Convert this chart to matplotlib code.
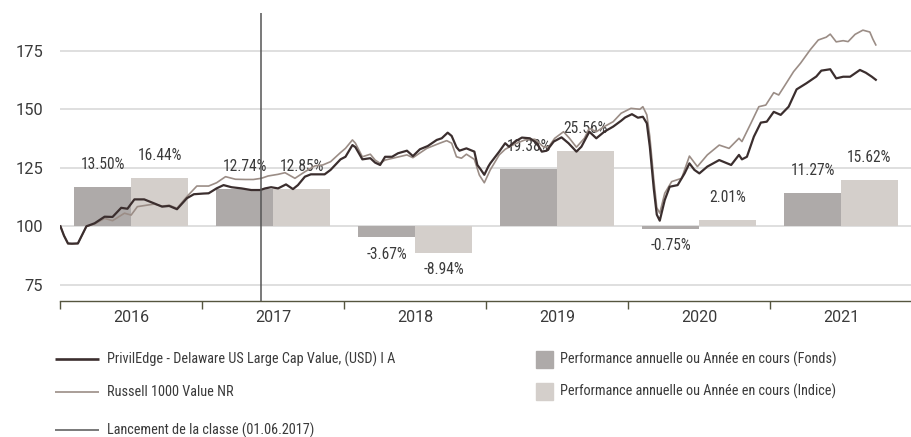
import matplotlib
matplotlib.use("Agg")
import matplotlib.pyplot as plt
from matplotlib.lines import Line2D
from matplotlib.patches import Rectangle
from matplotlib.transforms import blended_transform_factory

# ---------------- data ----------------
years = [2016, 2017, 2018, 2019, 2020, 2021]
year_labels = ["2016", "2017", "2018", "2019", "2020", "2021"]
perf_fund = [13.50, 12.74, -3.67, 19.38, -0.75, 11.27]
perf_index = [16.44, 12.85, -8.94, 25.56, 2.01, 15.62]
launch_date = 2017 + 5 / 12  # 01.06.2017
yticks = [75, 100, 125, 150, 175]

fund_t = [2016.001, 2016.026, 2016.054, 2016.082, 2016.124, 2016.184, 2016.242, 2016.312,
          2016.368, 2016.429, 2016.473, 2016.522, 2016.591, 2016.661, 2016.717, 2016.767,
          2016.822, 2016.892, 2016.941, 2017.010, 2017.045, 2017.101, 2017.150, 2017.206,
          2017.276, 2017.345, 2017.408, 2017.443, 2017.485, 2017.534, 2017.590, 2017.639,
          2017.674, 2017.723, 2017.765, 2017.862, 2017.904, 2017.974, 2018.009, 2018.058,
          2018.079, 2018.128, 2018.184, 2018.218, 2018.253, 2018.288, 2018.337, 2018.379,
          2018.442, 2018.484, 2018.533, 2018.589, 2018.652, 2018.687, 2018.729, 2018.757,
          2018.791, 2018.812, 2018.861, 2018.917, 2018.938, 2018.959, 2018.987, 2019.015,
          2019.029, 2019.092, 2019.134, 2019.161, 2019.203, 2019.252, 2019.308, 2019.357,
          2019.392, 2019.427, 2019.476, 2019.531, 2019.580, 2019.636, 2019.671, 2019.727,
          2019.776, 2019.832, 2019.895, 2019.951, 2019.979, 2020.027, 2020.069, 2020.104,
          2020.132, 2020.153, 2020.181, 2020.202, 2020.223, 2020.258, 2020.293, 2020.349,
          2020.398, 2020.432, 2020.467, 2020.502, 2020.558, 2020.642, 2020.726, 2020.781,
          2020.802, 2020.837, 2020.886, 2020.935, 2020.977, 2021.026, 2021.075, 2021.131,
          2021.187, 2021.256, 2021.326, 2021.361, 2021.424, 2021.466, 2021.515, 2021.564,
          2021.633, 2021.675, 2021.717, 2021.745]
fund_v = [100.0, 96.0, 92.7, 92.6, 92.7, 100.0, 101.3, 104.1,
          104.0, 107.9, 107.5, 111.5, 111.5, 109.8, 108.4, 108.7,
          107.3, 112.0, 113.7, 114.0, 114.1, 116.2, 117.6, 116.7,
          116.2, 115.5, 115.5, 116.2, 116.7, 116.2, 117.9, 115.9,
          117.6, 121.2, 122.2, 122.2, 124.1, 128.6, 129.7, 134.7,
          133.8, 128.6, 129.1, 127.2, 126.2, 129.7, 129.7, 131.2,
          132.3, 130.0, 132.9, 134.3, 136.9, 137.6, 140.0, 138.6,
          133.8, 132.3, 133.3, 131.9, 126.2, 124.5, 122.0, 125.5,
          126.9, 131.9, 135.5, 134.0, 136.2, 137.9, 137.6, 135.5,
          131.9, 132.3, 136.2, 138.0, 135.5, 131.9, 134.0, 140.4,
          137.6, 140.4, 142.6, 145.1, 146.5, 147.9, 146.4, 146.8,
          144.0, 134.0, 116.0, 105.0, 102.4, 111.2, 116.9, 117.6,
          122.6, 126.9, 124.1, 122.6, 125.5, 128.3, 126.2, 130.5,
          128.6, 129.7, 138.3, 144.3, 144.7, 148.9, 147.6, 151.1,
          158.5, 161.1, 164.0, 166.5, 167.1, 163.2, 163.9, 163.9,
          166.8, 165.6, 163.9, 162.6]

index_t = [2016.001, 2016.026, 2016.054, 2016.082, 2016.124, 2016.184, 2016.242, 2016.312,
           2016.368, 2016.452, 2016.499, 2016.543, 2016.661, 2016.717, 2016.767, 2016.822,
           2016.892, 2016.962, 2017.010, 2017.045, 2017.101, 2017.164, 2017.234, 2017.304,
           2017.360, 2017.416, 2017.464, 2017.534, 2017.583, 2017.653, 2017.723, 2017.793,
           2017.849, 2017.904, 2017.974, 2018.009, 2018.058, 2018.079, 2018.128, 2018.184,
           2018.218, 2018.253, 2018.288, 2018.344, 2018.442, 2018.484, 2018.582, 2018.673,
           2018.722, 2018.757, 2018.791, 2018.826, 2018.861, 2018.917, 2018.952, 2018.987,
           2019.029, 2019.092, 2019.134, 2019.203, 2019.273, 2019.343, 2019.406, 2019.441,
           2019.483, 2019.545, 2019.587, 2019.636, 2019.692, 2019.727, 2019.776, 2019.832,
           2019.895, 2019.951, 2020.020, 2020.083, 2020.104, 2020.132, 2020.153, 2020.181,
           2020.202, 2020.223, 2020.258, 2020.307, 2020.377, 2020.432, 2020.488, 2020.558,
           2020.642, 2020.711, 2020.781, 2020.802, 2020.865, 2020.921, 2020.970, 2021.026,
           2021.061, 2021.096, 2021.166, 2021.215, 2021.284, 2021.340, 2021.396, 2021.424,
           2021.466, 2021.515, 2021.550, 2021.599, 2021.654, 2021.703, 2021.724, 2021.745]
index_v = [100.0, 96.0, 92.5, 92.4, 92.6, 100.0, 101.0, 103.4,
           102.4, 105.6, 104.8, 108.4, 109.5, 108.6, 109.0, 107.7,
           112.7, 117.2, 117.2, 117.2, 118.6, 121.2, 120.1, 120.0,
           120.0, 120.5, 121.5, 122.2, 122.9, 120.5, 123.3, 125.8,
           126.2, 127.6, 131.5, 133.3, 136.9, 135.5, 129.7, 130.8,
           128.3, 126.9, 128.3, 129.1, 130.5, 129.3, 133.3, 135.5,
           136.6, 135.5, 129.7, 129.1, 130.8, 128.6, 121.9, 118.6,
           124.1, 130.5, 132.9, 135.2, 136.9, 137.2, 133.8, 134.0,
           137.6, 140.4, 137.6, 133.8, 137.6, 141.9, 140.4, 142.6,
           144.7, 148.3, 150.4, 150.0, 151.1, 147.6, 138.3, 120.0,
           108.0, 105.6, 114.1, 119.1, 120.5, 130.0, 125.5, 130.5,
           134.7, 133.3, 137.6, 136.2, 144.0, 151.1, 151.8, 157.1,
           156.1, 159.4, 166.1, 169.7, 175.5, 179.6, 180.8, 182.1,
           178.8, 179.3, 178.9, 182.0, 183.8, 183.0, 180.0, 177.5]

legend_fund = "PrivilEdge - Delaware US Large Cap Value, (USD) I A"
legend_index = "Russell 1000 Value NR"
legend_launch = "Lancement de la classe (01.06.2017)"
legend_bar_fund = "Performance annuelle ou Année en cours (Fonds)"
legend_bar_index = "Performance annuelle ou Année en cours (Indice)"

# ---------------- style ----------------
C_FUND = "#3b2e2e"
C_INDEX = "#9b8d86"
C_BAR_FUND = "#aeaaa9"
C_BAR_INDEX = "#d4cfcb"
C_GRID = "#d9d9d9"
C_TEXT = "#3a3a3a"
C_AXIS = "#55553f"
C_LAUNCH = "#555555"

plt.rcParams["font.family"] = ["Roboto", "Liberation Sans", "DejaVu Sans"]
NARROW = ["Roboto Condensed", "Archivo Narrow", "Liberation Sans", "DejaVu Sans"]
WIDE = ["Roboto", "Liberation Sans", "DejaVu Sans"]

W, H = 912, 437
fig = plt.figure(figsize=(W / 100, H / 100), dpi=100)
fig.patch.set_facecolor("white")


def fx(px):
    return px / W


def fy(py):
    return 1 - py / H


rect = [fx(60.3), fy(300.5), (W - 60.3) / W, (300.5 - 13.3) / H]
axb = fig.add_axes(rect)             # bars (percent scale)
ax = fig.add_axes(rect, sharex=axb)  # index lines
ax.set_zorder(2)
ax.patch.set_visible(False)

ax.set_xlim(2016, 2016 + (W - 60.3) / 143.2)
ax.set_ylim(68.3, 191.0)
axb.set_ylim(-25.23, 72.42)
axb.axis("off")

# grid lines behind bars
gtrans = blended_transform_factory(axb.transAxes, ax.transData)
for v in yticks:
    axb.plot([0, 1], [v, v], transform=gtrans, color=C_GRID, lw=1.2, zorder=0,
             solid_capstyle="butt")

# bars
bw = 0.4
xf = [y + 0.3 for y in years]
xi = [y + 0.7 for y in years]
axb.bar(xf, perf_fund, width=bw, color=C_BAR_FUND, zorder=1)
axb.bar(xi, perf_index, width=bw, color=C_BAR_INDEX, zorder=1)
for xs, vals in ((xf, perf_fund), (xi, perf_index)):
    for x, v in zip(xs, vals):
        off = 16.2 if v >= 0 else -12.2
        axb.annotate(f"{v:.2f}%", xy=(x, v), xytext=(0, off), textcoords="offset points",
                     ha="center", va="center", fontsize=11.2, color=C_TEXT,
                     family=NARROW, zorder=2)

# lines
ax.plot(index_t, index_v, color=C_INDEX, lw=1.2, zorder=3)
ax.plot(fund_t, fund_v, color=C_FUND, lw=1.6, zorder=4)
ax.axvline(launch_date, color=C_LAUNCH, lw=1.1, zorder=5)

# axes styling
for s in ("top", "right", "left"):
    ax.spines[s].set_visible(False)
ax.spines["bottom"].set_color(C_AXIS)
ax.spines["bottom"].set_linewidth(1.0)

ax.set_yticks(yticks)
ax.set_yticklabels([str(v) for v in yticks], family=WIDE)
ax.tick_params(axis="y", length=0, pad=12.2, labelsize=11.8, labelcolor=C_TEXT)

ax.set_xticks(years + [years[-1] + 1])
ax.set_xticklabels([])
ax.set_xticks([y + 0.5 for y in years], minor=True)
ax.set_xticklabels(year_labels, minor=True, family=WIDE)
ax.tick_params(axis="x", which="major", length=5.8, width=1.0, color=C_AXIS, direction="out")
ax.tick_params(axis="x", which="minor", length=0, pad=7, labelsize=11.5, labelcolor=C_TEXT)

# ---------------- legend ----------------
def leg_line(y, color, lw, label):
    fig.add_artist(Line2D([fx(55), fx(99)], [fy(y), fy(y)], color=color, lw=lw,
                          transform=fig.transFigure, solid_capstyle="butt"))
    fig.text(fx(107), fy(y), label, ha="left", va="center", fontsize=10.3,
             color=C_TEXT, family=NARROW)


def leg_patch(y, color, label):
    fig.add_artist(Rectangle((fx(536), fy(y + 8.5)), 17 / W, 17 / H, color=color,
                             transform=fig.transFigure))
    fig.text(fx(560), fy(y), label, ha="left", va="center", fontsize=10.3,
             color=C_TEXT, family=NARROW)


leg_line(359, C_FUND, 1.9, legend_fund)
leg_line(391.5, C_INDEX, 1.2, legend_index)
leg_line(430, C_LAUNCH, 1.1, legend_launch)
leg_patch(359.5, C_BAR_FUND, legend_bar_fund)
leg_patch(391.5, C_BAR_INDEX, legend_bar_index)

fig.savefig("out.png", dpi=100, facecolor="white")
